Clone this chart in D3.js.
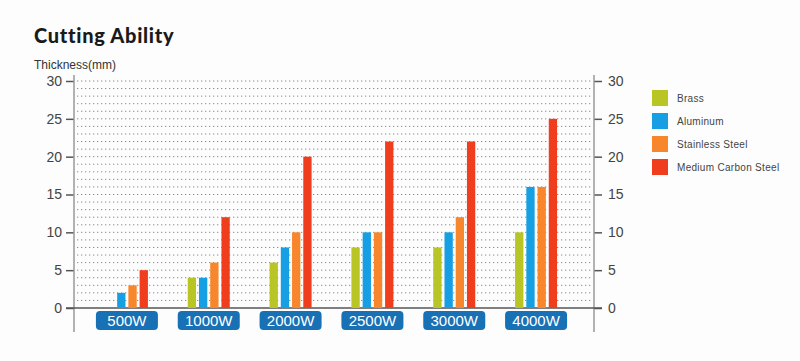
<!DOCTYPE html>
<html><head><meta charset="utf-8">
<script src="https://cdn.jsdelivr.net/npm/d3@7"></script>
<style>body{margin:0;background:#fff;}svg{display:block;}</style>
</head><body>
<svg id="c" width="800" height="361"></svg>
<script>
const categories = ["500W","1000W","2000W","2500W","3000W","4000W"];
const seriesNames = ["Brass","Aluminum","Stainless Steel","Medium  Carbon Steel"];
const brass = [0,4,6,8,8,10];
const aluminum = [2,4,8,10,10,16];
const stainless = [3,6,10,10,12,16];
const carbon = [5,12,20,22,22,25];
const yTicks = [0,5,10,15,20,25,30];
const colors = ["#b9c524","#179fe3","#f7862c","#f03d1e"];

const seriesValues = [brass, aluminum, stainless, carbon];
const svg = d3.select("#c");
const y = d3.scaleLinear().domain([0,30]).range([308,81]);
const x = d3.scaleBand().domain(categories).range([86,577]);
const xs = d3.scaleBand().domain(d3.range(4)).range([0,42]).paddingInner(0.26);

svg.append("rect").attr("width",800).attr("height",361).attr("fill","#fdfdfd");

// title
svg.append("text").attr("x",34).attr("y",43).text("Cutting Ability")
  .attr("font-family","Lato, 'DejaVu Sans', sans-serif").attr("font-weight",900)
  .attr("font-size",20).attr("fill","#1a1a1a").attr("letter-spacing",0.7);
svg.append("text").attr("x",34).attr("y",69).text("Thickness(mm)")
  .attr("font-family","'Liberation Sans', Arial, sans-serif").attr("font-size",12).attr("fill","#333");

// dotted grid
const grid = svg.append("g");
d3.range(1,31).forEach(v=>{
  grid.append("line").attr("x1",77).attr("x2",592).attr("y1",y(v)).attr("y2",y(v))
    .attr("stroke","#8a8a8a").attr("stroke-width",1).attr("stroke-dasharray","1.3,2.7");
});

// axes
const leftAxis = d3.axisLeft(y).tickValues(yTicks).tickSize(8).tickPadding(4);
const rightAxis = d3.axisRight(y).tickValues(yTicks).tickSize(8).tickPadding(6);
const gl = svg.append("g").attr("transform","translate(74,0)").call(leftAxis);
const gr = svg.append("g").attr("transform","translate(594,0)").call(rightAxis);
[gl,gr].forEach(g=>{
  g.select(".domain").remove();
  g.selectAll(".tick line").attr("stroke","#555").attr("stroke-width",1.5);
  g.selectAll(".tick text").attr("font-family","'Liberation Sans', Arial, sans-serif")
    .attr("font-size",14).attr("fill","#444");
});
svg.append("line").attr("x1",74).attr("x2",74).attr("y1",75).attr("y2",332).attr("stroke","#999").attr("stroke-width",1.5);
svg.append("line").attr("x1",594).attr("x2",594).attr("y1",75).attr("y2",332).attr("stroke","#999").attr("stroke-width",1.5);
svg.append("line").attr("x1",66).attr("x2",602).attr("y1",y(0)).attr("y2",y(0)).attr("stroke","#555").attr("stroke-width",1.5);

// bars
categories.forEach((c,i)=>{
  const gx = x(c) + x.bandwidth()/2 - 21;
  seriesValues.forEach((vals,s)=>{
    const v = vals[i];
    if(v<=0) return;
    svg.append("rect").attr("x",gx+xs(s)).attr("width",xs.bandwidth())
      .attr("y",y(v)).attr("height",y(0)-y(v)).attr("fill",colors[s]);
  });
  const cx = x(c)+x.bandwidth()/2;
  svg.append("rect").attr("x",cx-31).attr("y",311).attr("width",62).attr("height",19)
    .attr("rx",4).attr("fill","#1870b5");
  svg.append("text").attr("x",cx).attr("y",326).attr("text-anchor","middle").text(c)
    .attr("font-family","'Liberation Sans', Arial, sans-serif").attr("font-size",15)
    .attr("fill","#fff");
});

// legend
const lg = svg.append("g");
seriesNames.forEach((n,s)=>{
  const yy = 90 + s*23;
  lg.append("rect").attr("x",652).attr("y",yy).attr("width",16).attr("height",16).attr("fill",colors[s]);
  lg.append("text").attr("x",677).attr("y",yy+12).text(n)
    .attr("font-family","'Liberation Sans', Arial, sans-serif").attr("font-size",10)
    .attr("fill","#444").attr("letter-spacing",0.3);
});
</script>
</body></html>
